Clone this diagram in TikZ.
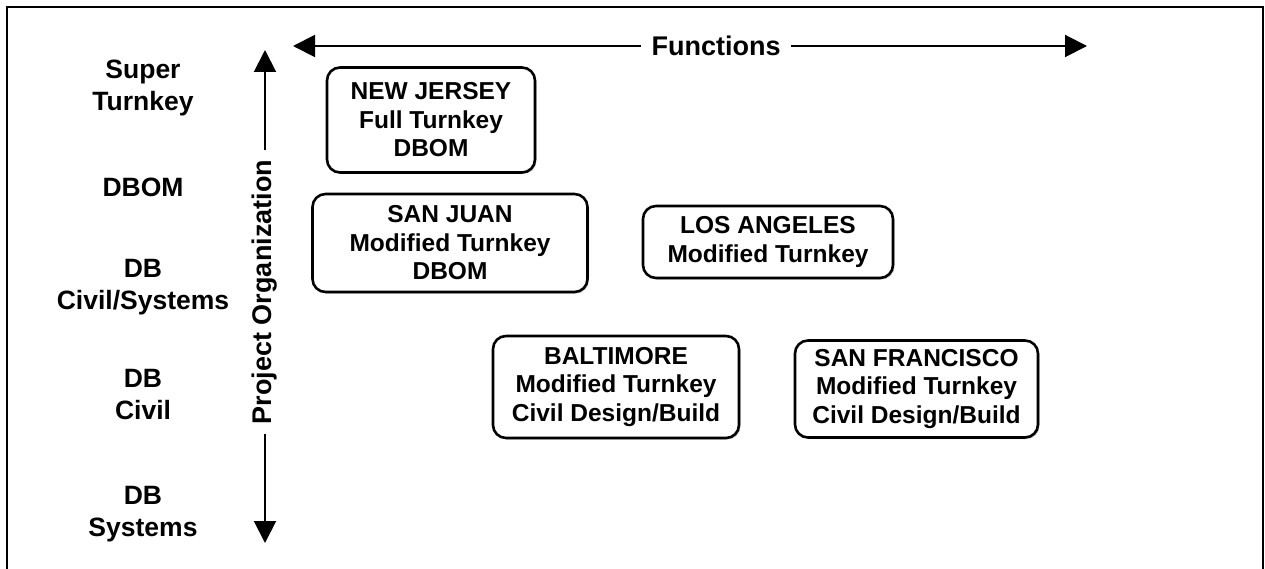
\documentclass[tikz,border=0pt]{standalone}
\usepackage{fontspec}
\setmainfont{Liberation Sans}
\usetikzlibrary{arrows.meta,shadows}
\tikzset{
  rowlabel/.style={align=center,font=\fontsize{26.5}{32}\selectfont\bfseries,inner sep=0pt},
  casebox/.style={draw,line width=2.6pt,rounded corners=13pt,align=center,
    font=\fontsize{24.5}{28.5}\selectfont\bfseries,inner sep=0pt,fill=white,
    drop shadow={shadow xshift=1.5pt,shadow yshift=-1.5pt,fill=black!35,opacity=0.6}},
  axis/.style={line width=2pt,-{Triangle[length=22pt,width=22pt]}},
  axislabel/.style={font=\fontsize{27}{30}\selectfont\bfseries,inner sep=10pt}
}
\begin{document}
\begin{tikzpicture}[x=1pt,y=-1pt]
\useasboundingbox (0,0) rectangle (1265,569);
% frame (open at bottom)
\draw[line width=1.6pt] (7,569) -- (7,7) -- (1263,7) -- (1263,569);
% row labels
\node[rowlabel] (super) at (143,88) {Super\\Turnkey};
\node[rowlabel] (dbom) at (143,187) {DBOM};
\node[rowlabel] (dbcs) at (143,287) {DB\\Civil/Systems};
\node[rowlabel] (dbc) at (143,395) {DB\\Civil};
\node[rowlabel] (dbs) at (143,514) {DB\\Systems};
% vertical axis
\coordinate (vtop) at (265,50);
\coordinate (vbot) at (265,543);
\node[axislabel,rotate=90] (porg) at (265,292) {Project Organization};
\draw[axis] (porg.east) -- (vtop);
\draw[axis] (porg.west) -- (vbot);
% horizontal axis
\coordinate (hleft) at (293,46);
\coordinate (hright) at (1087,46);
\node[axislabel] (func) at (716,46) {Functions};
\draw[axis] (func.west) -- (hleft);
\draw[axis] (func.east) -- (hright);
% case boxes
\node[casebox,minimum width=208pt,minimum height=105pt] (nj) at (431,120)
  {NEW JERSEY\\Full Turnkey\\DBOM};
\node[casebox,minimum width=275pt,minimum height=98pt] (sj) at (450,243)
  {SAN JUAN\\Modified Turnkey\\DBOM};
\node[casebox,minimum width=250pt,minimum height=72pt] (la) at (768,242)
  {LOS ANGELES\\Modified Turnkey};
\node[casebox,minimum width=246pt,minimum height=102pt] (bal) at (616,387)
  {BALTIMORE\\Modified Turnkey\\Civil Design/Build};
\node[casebox,minimum width=243pt,minimum height=97pt] (sf) at (916.5,389)
  {SAN FRANCISCO\\Modified Turnkey\\Civil Design/Build};
\end{tikzpicture}
\end{document}
